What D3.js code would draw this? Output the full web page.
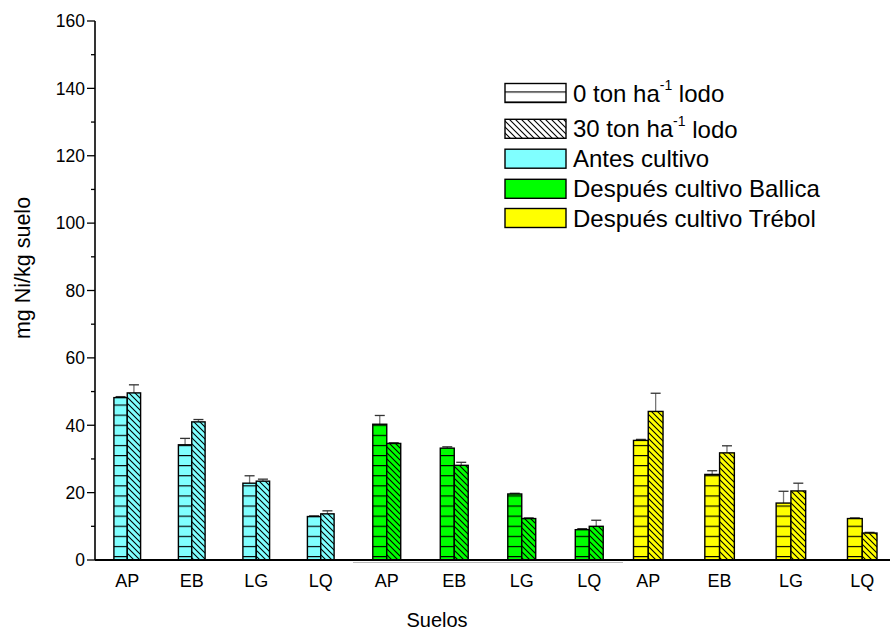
<!DOCTYPE html>
<html>
<head>
<meta charset="utf-8">
<script src="https://cdn.jsdelivr.net/npm/d3@7"></script>
<style>
  html, body { margin: 0; padding: 0; background: #fff; }
  svg { display: block; font-family: "Liberation Sans", Arial, sans-serif; }
</style>
</head>
<body>
<svg id="chart" width="890" height="630"></svg>
<script>
// Soil types on the x axis, repeated for each sampling stage
const soils = ["AP", "EB", "LG", "LQ"];
const stages = ["Antes cultivo", "Después cultivo Ballica", "Después cultivo Trébol"];
const stageColors = ["#80FFFF", "#00FF00", "#FFFF00"];
const doseLabels = ["0 ton ha", "30 ton ha"];

// Ni content (mg/kg soil) for 0 and 30 t/ha sludge, with upper error bars
const antes0 = [48.2, 34.2, 22.8, 12.9];
const antes30 = [49.6, 41.0, 23.4, 13.7];
const antesErr0 = [0.3, 1.9, 2.2, 0.2];
const antesErr30 = [2.4, 0.7, 0.6, 0.9];

const ballica0 = [40.3, 33.2, 19.6, 9.0];
const ballica30 = [34.6, 28.1, 12.3, 10.0];
const ballicaErr0 = [2.6, 0.4, 0.2, 0.3];
const ballicaErr30 = [0.2, 0.9, 0.2, 1.8];

const trebol0 = [35.5, 25.4, 16.9, 12.3];
const trebol30 = [44.1, 31.8, 20.5, 8.0];
const trebolErr0 = [0.3, 1.1, 3.5, 0.2];
const trebolErr30 = [5.4, 2.1, 2.3, 0.2];

const yTicks = [0, 20, 40, 60, 80, 100, 120, 140, 160];
const yMinorTicks = [10, 30, 50, 70, 90, 110, 130, 150];

const values0 = [antes0, ballica0, trebol0];
const values30 = [antes30, ballica30, trebol30];
const errors0 = [antesErr0, ballicaErr0, trebolErr0];
const errors30 = [antesErr30, ballicaErr30, trebolErr30];

const svg = d3.select("#chart");

const x0 = 95, yBottom = 560, yTop = 21;
const y = d3.scaleLinear().domain([0, 160]).range([yBottom, yTop]);

// each stage is drawn on its own x layer
const layerRanges = [[95, 353], [353, 623], [612.6, 897.9]];
const layerScales = layerRanges.map(r => d3.scaleBand().domain(soils).range(r).padding(0));

// fill patterns: horizontal lines (0 t/ha) and back-diagonal hatch (30 t/ha)
const defs = svg.append("defs");
stageColors.concat(["#ffffff"]).forEach((c, i) => {
  const ph = defs.append("pattern").attr("id", "hz" + i)
    .attr("patternUnits", "userSpaceOnUse").attr("width", 8).attr("height", 10.1)
    .attr("y", 0.5);
  ph.append("rect").attr("width", 8).attr("height", 10.1).attr("fill", c);
  ph.append("line").attr("x1", 0).attr("x2", 8).attr("y1", 0.5).attr("y2", 0.5)
    .attr("stroke", "#000").attr("stroke-width", 1.3);

  const pd = defs.append("pattern").attr("id", "dg" + i)
    .attr("patternUnits", "userSpaceOnUse").attr("width", 6).attr("height", 6);
  pd.append("rect").attr("width", 6).attr("height", 6).attr("fill", c);
  pd.append("path").attr("d", "M-1.5,-1.5L7.5,7.5M-1.5,4.5L1.5,7.5M4.5,-1.5L7.5,1.5")
    .attr("stroke", "#000").attr("stroke-width", 1.1);
});

// bars and error bars
const g = svg.append("g");
stages.forEach((stage, s) => {
  const xs = layerScales[s];
  const w = xs.bandwidth() * 0.207;
  soils.forEach((soil, k) => {
    const cx = xs(soil) + xs.bandwidth() / 2;
    [[values0, errors0, "hz", cx - w], [values30, errors30, "dg", cx]].forEach(([vals, errs, pat, left]) => {
      const v = vals[s][k], e = errs[s][k];
      const mid = left + w / 2;
      g.append("line").attr("x1", mid).attr("x2", mid)
        .attr("y1", y(v)).attr("y2", y(v + e))
        .attr("stroke", "#777").attr("stroke-width", 1.3);
      g.append("line").attr("x1", mid - 5).attr("x2", mid + 5)
        .attr("y1", y(v + e)).attr("y2", y(v + e))
        .attr("stroke", "#333").attr("stroke-width", 1.3);
      g.append("rect").attr("x", left).attr("y", y(v))
        .attr("width", w).attr("height", y(0) - y(v))
        .attr("fill", `url(#${pat}${s})`)
        .attr("stroke", "#000").attr("stroke-width", 1.4);
    });
  });
});

// y axis
const yAxis = svg.append("g");
yAxis.append("line").attr("x1", x0).attr("x2", x0).attr("y1", yBottom).attr("y2", yTop)
  .attr("stroke", "#000").attr("stroke-width", 1.6);
yAxis.selectAll(".maj").data(yTicks).join("line")
  .attr("x1", x0 - 8).attr("x2", x0).attr("y1", d => y(d)).attr("y2", d => y(d))
  .attr("stroke", "#000").attr("stroke-width", 1.3);
yAxis.selectAll(".min").data(yMinorTicks).join("line")
  .attr("x1", x0 - 4).attr("x2", x0).attr("y1", d => y(d)).attr("y2", d => y(d))
  .attr("stroke", "#000").attr("stroke-width", 1.3);
yAxis.selectAll("text").data(yTicks).join("text")
  .attr("x", x0 - 10).attr("y", d => y(d)).attr("dy", "0.36em")
  .attr("text-anchor", "end").attr("font-size", 17.5).text(d => d);

// x axis baseline and soil labels
svg.append("line").attr("x1", x0).attr("x2", 890).attr("y1", yBottom).attr("y2", yBottom)
  .attr("stroke", "#000").attr("stroke-width", 1.8);
svg.append("line").attr("x1", layerRanges[1][0]).attr("x2", layerRanges[1][1])
  .attr("y1", yBottom + 2.5).attr("y2", yBottom + 2.5)
  .attr("stroke", "#bbb").attr("stroke-width", 1);
stages.forEach((stage, s) => {
  const xs = layerScales[s];
  svg.append("g").selectAll("text").data(soils).join("text")
    .attr("x", d => xs(d) + xs.bandwidth() / 2).attr("y", 587)
    .attr("text-anchor", "middle").attr("font-size", 18).text(d => d);
});

// axis titles
svg.append("text").attr("x", 437).attr("y", 627).attr("text-anchor", "middle")
  .attr("font-size", 20).text("Suelos");
svg.append("text").attr("transform", "translate(30,268) rotate(-90)")
  .attr("text-anchor", "middle").attr("font-size", 21.5).text("mg Ni/kg suelo");

// legend
const lx = 505, lw = 61, lh = 19;
const legendRows = [
  { fill: "url(#hz3)", label: doseLabels[0], sup: "-1", tail: " lodo", cy: 93 },
  { fill: "url(#dg3)", label: doseLabels[1], sup: "-1", tail: " lodo", cy: 128.8 },
  { fill: stageColors[0], label: stages[0], cy: 158.7 },
  { fill: stageColors[1], label: stages[1], cy: 188.8 },
  { fill: stageColors[2], label: stages[2], cy: 218 }
];
const lg = svg.append("g");
legendRows.forEach(r => {
  lg.append("rect").attr("x", lx).attr("y", r.cy - lh / 2).attr("width", lw).attr("height", lh)
    .attr("fill", r.fill).attr("stroke", "#000").attr("stroke-width", 1.4);
  const t = lg.append("text").attr("x", lx + lw + 7).attr("y", r.cy).attr("dy", "0.36em")
    .attr("font-size", 24);
  t.append("tspan").text(r.label);
  if (r.sup) {
    t.append("tspan").attr("font-size", 14).attr("dy", "-0.85em").text(r.sup);
    t.append("tspan").attr("dy", "0.52em").attr("font-size", 24).text(r.tail);
  }
});
</script>
</body>
</html>
